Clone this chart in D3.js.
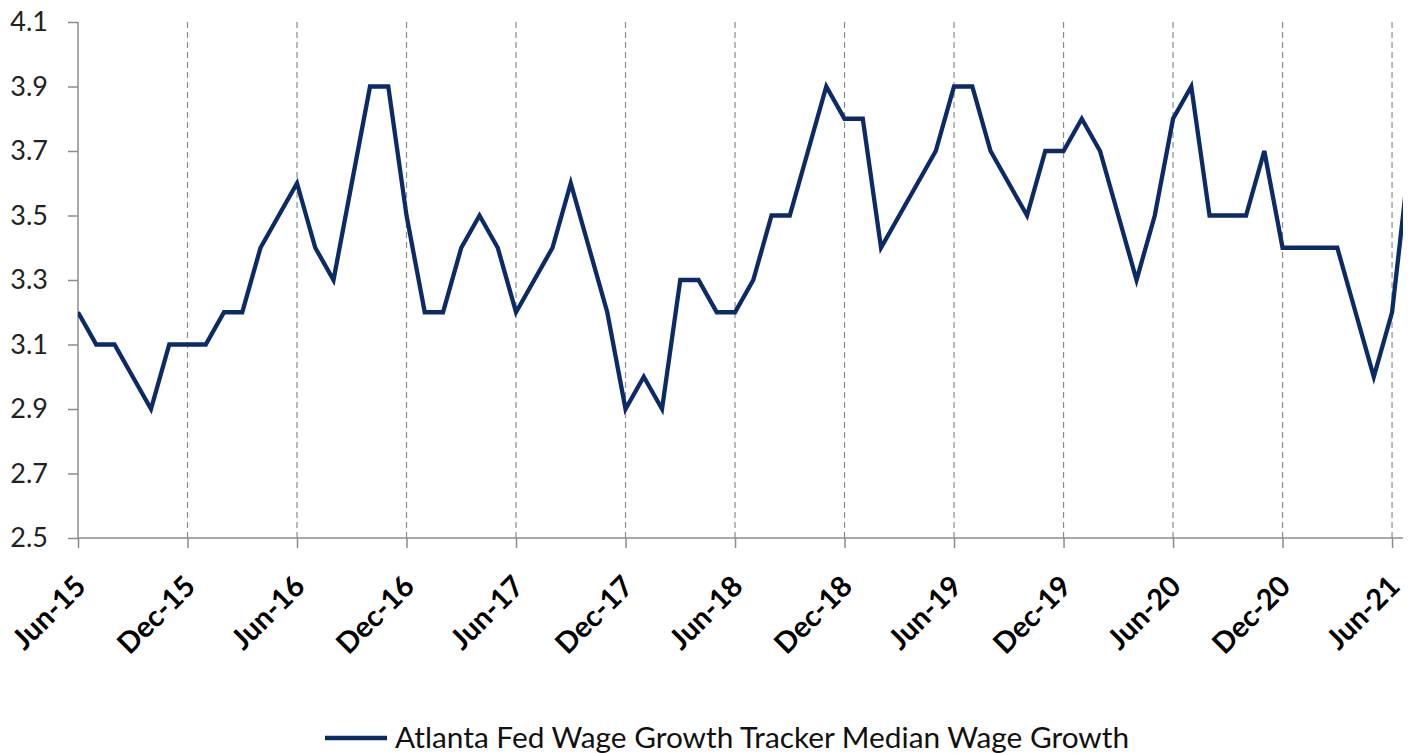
<!DOCTYPE html>
<html>
<head>
<meta charset="utf-8">
<script src="https://cdn.jsdelivr.net/npm/d3@7"></script>
<style>
  html, body { margin: 0; padding: 0; background: #fff; }
  svg { display: block; }
</style>
</head>
<body>
<svg width="1413" height="753"></svg>
<script>
// Monthly series, Jun-15 .. Jul-21
const months = [
  "Jun-15","Jul-15","Aug-15","Sep-15","Oct-15","Nov-15","Dec-15",
  "Jan-16","Feb-16","Mar-16","Apr-16","May-16","Jun-16","Jul-16","Aug-16","Sep-16","Oct-16","Nov-16","Dec-16",
  "Jan-17","Feb-17","Mar-17","Apr-17","May-17","Jun-17","Jul-17","Aug-17","Sep-17","Oct-17","Nov-17","Dec-17",
  "Jan-18","Feb-18","Mar-18","Apr-18","May-18","Jun-18","Jul-18","Aug-18","Sep-18","Oct-18","Nov-18","Dec-18",
  "Jan-19","Feb-19","Mar-19","Apr-19","May-19","Jun-19","Jul-19","Aug-19","Sep-19","Oct-19","Nov-19","Dec-19",
  "Jan-20","Feb-20","Mar-20","Apr-20","May-20","Jun-20","Jul-20","Aug-20","Sep-20","Oct-20","Nov-20","Dec-20",
  "Jan-21","Feb-21","Mar-21","Apr-21","May-21","Jun-21","Jul-21"
];
const wageGrowth = [
  3.2, 3.1, 3.1, 3.0, 2.9, 3.1, 3.1,
  3.1, 3.2, 3.2, 3.4, 3.5, 3.6, 3.4, 3.3, 3.6, 3.9, 3.9, 3.5,
  3.2, 3.2, 3.4, 3.5, 3.4, 3.2, 3.3, 3.4, 3.6, 3.4, 3.2, 2.9,
  3.0, 2.9, 3.3, 3.3, 3.2, 3.2, 3.3, 3.5, 3.5, 3.7, 3.9, 3.8,
  3.8, 3.4, 3.5, 3.6, 3.7, 3.9, 3.9, 3.7, 3.6, 3.5, 3.7, 3.7,
  3.8, 3.7, 3.5, 3.3, 3.5, 3.8, 3.9, 3.5, 3.5, 3.5, 3.7, 3.4,
  3.4, 3.4, 3.4, 3.2, 3.0, 3.2, 3.7
];
const tickLabels = ["Jun-15","Dec-15","Jun-16","Dec-16","Jun-17","Dec-17","Jun-18",
                    "Dec-18","Jun-19","Dec-19","Jun-20","Dec-20","Jun-21"];
const yTicks = [2.5, 2.7, 2.9, 3.1, 3.3, 3.5, 3.7, 3.9, 4.1];
const seriesName = "Atlanta Fed Wage Growth Tracker Median Wage Growth";

const data = months.map((m, i) => ({ month: m, i, value: wageGrowth[i] }));

const svg = d3.select("svg");
const margin = { top: 22, right: 10, bottom: 215, left: 78 };
const width = +svg.attr("width") - margin.left - margin.right;
const height = +svg.attr("height") - margin.top - margin.bottom;

// x is a month index; the plot ends a little after Jun-21
const x = d3.scaleLinear().domain([0, 72.6]).range([0, width]);
const y = d3.scaleLinear().domain([2.5, 4.1]).range([height, 0]);

const g = svg.append("g").attr("transform", `translate(${margin.left},${margin.top})`);

svg.append("defs").append("clipPath").attr("id", "plot-clip")
  .append("rect").attr("width", width).attr("height", height);

// vertical dashed gridlines every six months
g.append("g")
  .selectAll("line")
  .data(tickLabels.slice(1))
  .join("line")
  .attr("x1", d => x(months.indexOf(d)))
  .attr("x2", d => x(months.indexOf(d)))
  .attr("y1", 0)
  .attr("y2", height)
  .attr("stroke", "#8c8c8c")
  .attr("stroke-width", 1.2)
  .attr("stroke-dasharray", "6,4");

// y axis
const yAxis = g.append("g")
  .call(d3.axisLeft(y).tickValues(yTicks).tickFormat(d3.format(".1f")).tickSize(10).tickPadding(20));
yAxis.select(".domain").attr("stroke", "#8c8c8c").attr("stroke-width", 1.5).attr("d", `M0,${height}V0`);
yAxis.selectAll(".tick line").attr("stroke", "#8c8c8c").attr("stroke-width", 1.5);
yAxis.selectAll(".tick text")
  .attr("fill", "#222")
  .style("font-family", "Lato, 'Open Sans', sans-serif")
  .style("font-size", "27px");

// x axis
const xAxis = g.append("g")
  .attr("transform", `translate(0,${height})`)
  .call(d3.axisBottom(x)
    .tickValues(tickLabels.map(t => months.indexOf(t)))
    .tickFormat(i => months[i])
    .tickSize(10));
xAxis.select(".domain").attr("stroke", "#8c8c8c").attr("stroke-width", 1.5).attr("d", `M0,0H${width}`);
xAxis.selectAll(".tick line").attr("stroke", "#8c8c8c").attr("stroke-width", 1.5);
xAxis.selectAll(".tick text")
  .attr("fill", "#000")
  .attr("text-anchor", "end")
  .attr("transform", "translate(2,43) rotate(-45)")
  .attr("dy", "0.35em")
  .attr("y", 0)
  .style("font-family", "Lato, 'Open Sans', sans-serif")
  .style("font-weight", "bold")
  .style("font-size", "29px");

// series line
const line = d3.line().x(d => x(d.i)).y(d => y(d.value));
g.append("path")
  .datum(data)
  .attr("clip-path", "url(#plot-clip)")
  .attr("fill", "none")
  .attr("stroke", "#0b2a68")
  .attr("stroke-width", 4.3)
  .attr("stroke-linejoin", "miter")
  .attr("d", line);

// legend
const legend = svg.append("g").attr("transform", "translate(325,738)");
legend.append("line")
  .attr("x1", 0).attr("x2", 62)
  .attr("stroke", "#0b2a68").attr("stroke-width", 4.3);
legend.append("text")
  .attr("x", 70)
  .attr("dy", "0.35em")
  .attr("fill", "#111")
  .style("font-family", "Lato, 'Open Sans', sans-serif")
  .style("font-size", "29.8px")
  .text(seriesName);
</script>
</body>
</html>
